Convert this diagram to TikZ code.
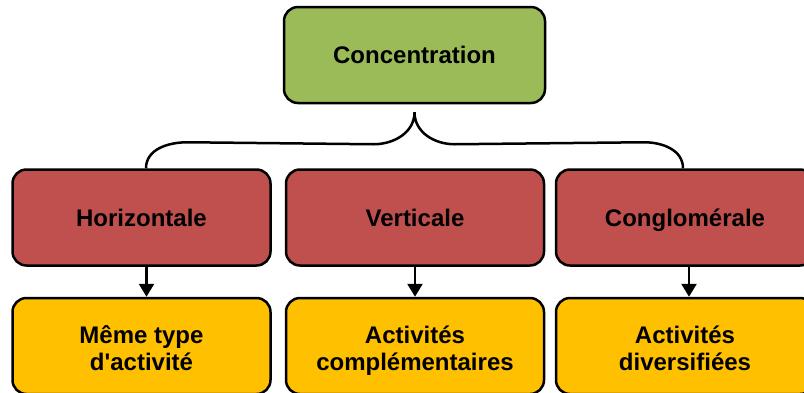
\documentclass[tikz,border=0pt]{standalone}
\usepackage{fontspec}
\setmainfont{Liberation Sans}
\usetikzlibrary{arrows.meta, calc}
\definecolor{conccol}{RGB}{155,187,89}
\definecolor{typecol}{RGB}{192,80,77}
\definecolor{activcol}{RGB}{255,192,0}
\newcommand{\twolines}[2]{\rule{0pt}{26pt}#1\\#2\rule[-5pt]{0pt}{5pt}}

\begin{document}
\begin{tikzpicture}[x=1pt,y=1pt,
  box/.style={draw=black,line width=2.5pt,rounded corners=14pt,minimum width=258pt,
    minimum height=96pt,inner sep=0pt,align=center,
    font=\fontsize{24}{27}\selectfont\bfseries},
  onebox/.style={box,text height=17.5pt,text depth=0.5pt},
  link/.style={line width=2.5pt,-{Triangle[width=15pt,length=13pt]}}]
  \useasboundingbox (0,0) rectangle (804,-392);
  % Top level
  \node[onebox,fill=conccol,minimum width=261pt] (conc) at (414.5,-55){Concentration};
  % Kinds of concentration
  \node[onebox,fill=typecol] (horiz) at (141.5,-217.5){Horizontale};
  \node[onebox,fill=typecol] (vert) at (415,-217.5){Verticale};
  \node[onebox,fill=typecol] (congl) at (685,-217.5){Conglomérale};
  % Activities
  \node[box,fill=activcol] (meme) at (141.5,-346){\twolines{Même type}{d\textquotesingle activité}};
  \node[box,fill=activcol] (compl) at (415,-346){\twolines{Activités}{complémentaires}};
  \node[box,fill=activcol] (divers) at (685,-346){\twolines{Activités}{diversifiées}};
  % Brace
  \coordinate (tip) at ([yshift=-8pt]conc.south);
  \draw[line width=2.5pt] ([xshift=4.5pt]horiz.north) to[out=90,in=180] ($(horiz.north)+(46,26)$)
    -- ($(tip)+(-41,-32)$) to[out=0,in=-90] (tip) to[out=-90,in=180] ($(tip)+(40,-32)$)
    -- ($(congl.north)+(-41,26)$) to[out=0,in=90] ([xshift=-2pt]congl.north);
  % Arrows
  \draw[link] ([xshift=5pt]horiz.south) -- ([xshift=5pt]meme.north);
  \draw[link] (vert.south) -- (compl.north);
  \draw[link] ([xshift=4pt]congl.south) -- ([xshift=4pt]divers.north);
\end{tikzpicture}
\end{document}
